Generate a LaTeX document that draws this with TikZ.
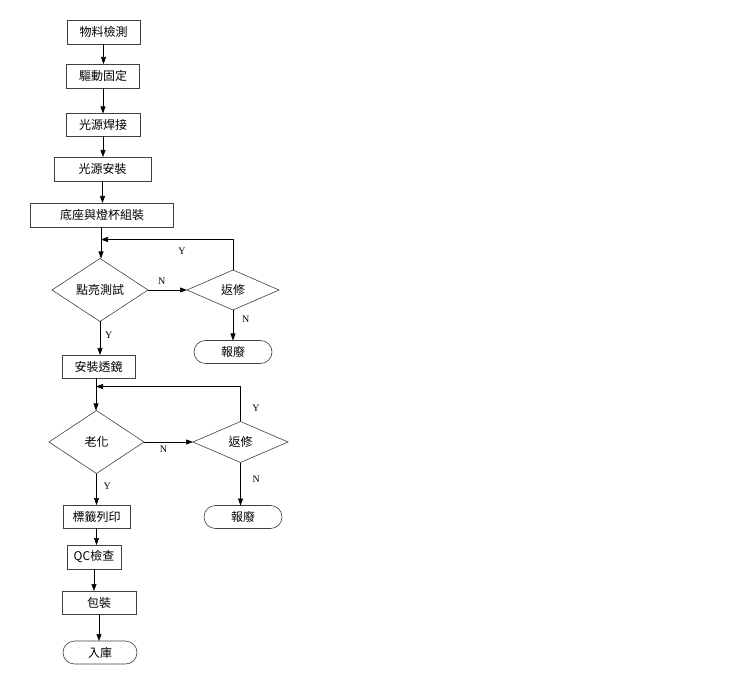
\documentclass[tikz,border=0pt]{standalone}
\usepackage{fontspec}
\setmainfont{Noto Sans CJK TC}
\newfontfamily\lblfont{Liberation Serif}
\usetikzlibrary{arrows.meta,shapes.geometric,shapes.misc}
\begin{document}
\begin{tikzpicture}[x=1pt,y=-1pt,
  font=\fontsize{12}{14}\selectfont,
  every node/.style={inner sep=0pt, outer sep=0pt},
  procbox/.style={draw=black!75, line width=0.6pt, rectangle, minimum height=#1},
  procbox/.default=24pt,
  decide/.style={draw=black!75, line width=0.6pt, diamond, aspect=1.5},
  term/.style={draw=black!75, line width=0.6pt, rounded rectangle, minimum height=23pt},
  flow/.style={draw=black, line width=0.6pt, -{Triangle[length=7pt,width=5pt]}},
  lbl/.style={font=\lblfont\fontsize{10}{11}\selectfont}]
\useasboundingbox (0,0) rectangle (740,679);
% main column
\node[procbox, minimum width=73pt] (b1) at (103.5,32) {物料檢測};
\node[procbox, minimum width=73pt] (b2) at (103,76) {驅動固定};
\node[procbox, minimum width=74pt, minimum height=23pt] (b3) at (103,125) {光源焊接};
\node[procbox, minimum width=97pt] (b4) at (102.5,169) {光源安裝};
\node[procbox, minimum width=143pt] (b5) at (102,215) {底座與燈杯組裝};
\node[decide, minimum width=96pt, minimum height=63pt] (d1) at (100,290) {點亮測試};
\node[decide, minimum width=92pt, minimum height=40pt] (r1) at (233,290) {返修};
\node[term, minimum width=78pt] (s1) at (233,352) {報廢};
\node[procbox, minimum width=73pt, minimum height=23pt] (b6) at (98.5,366.5) {安裝透鏡};
\node[decide, minimum width=95pt, minimum height=63pt] (d2) at (96.5,442) {老化};
\node[decide, minimum width=95pt, minimum height=41pt] (r2) at (240.5,442) {返修};
\node[term, minimum width=78pt] (s2) at (243,517) {報廢};
\node[procbox, minimum width=67pt, minimum height=23pt] (b7) at (96.5,516.5) {標籤列印};
\node[procbox, minimum width=54pt] (b8) at (94,557) {QC檢查};
\node[procbox, minimum width=74pt, minimum height=23pt] (b9) at (99,602.5) {包裝};
\node[term, minimum width=74pt] (b10) at (100,652.5) {入庫};
\coordinate (j1) at (101,239.5);
\coordinate (j2) at (96,386.5);
% arrows
\draw[flow] (b1.south) -- (b1.south |- b2.north);
\draw[flow] (b2.south) -- (b2.south |- b3.north);
\draw[flow] (b3.south) -- (b3.south |- b4.north);
\draw[flow] (b4.south) -- (b4.south |- b5.north);
\draw[line width=0.6pt] (j1 |- b5.south) -- (j1);
\draw[flow] (j1) -- (j1 |- d1.north);
\draw[flow] (d1.east) -- node[lbl, above=5pt, pos=0.35] {N} (r1.west);
\draw[flow] (r1.north) -- (r1.north |- j1) -- (j1);
\node[lbl] (y1) at (182,251) {Y};
\draw[flow] (r1.south) -- node[lbl, right=9pt, pos=0.3] {N} (r1.south |- s1.north);
\draw[flow] (d1.south) -- node[lbl, right=5pt, pos=0.4] {Y} (d1.south |- b6.north);
\draw[line width=0.6pt] (j2 |- b6.south) -- (j2);
\draw[flow] (j2) -- (j2 |- d2.north);
\draw[flow] (d2.east) -- node[lbl, below=4pt, pos=0.4] {N} (r2.west);
\draw[flow] (r2.north) -- (r2.north |- j2) -- (j2);
\node[lbl] (y2) at (256,408) {Y};
\draw[flow] (r2.south) -- node[lbl, right=12pt, pos=0.4] {N} (r2.south |- s2.north);
\draw[flow] (d2.south) -- node[lbl, right=7pt, pos=0.4] {Y} (d2.south |- b7.north);
\draw[flow] (b7.south) -- (b7.south |- b8.north);
\draw[flow] (b8.south) -- (b8.south |- b9.north);
\draw[flow] (b9.south) -- (b9.south |- b10.north);
\end{tikzpicture}
\end{document}
